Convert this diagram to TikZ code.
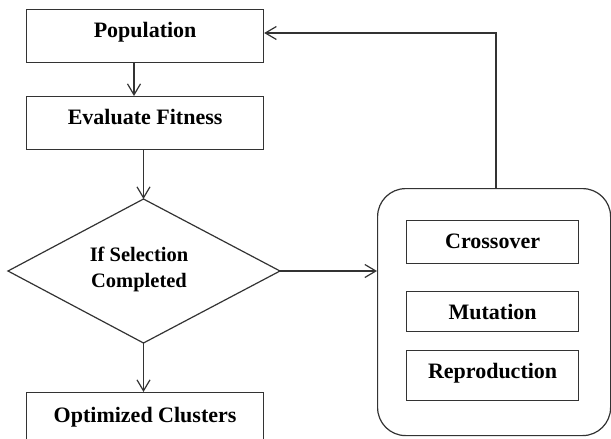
\documentclass[tikz,border=0pt]{standalone}
\usepackage{fontspec}
\setmainfont{Liberation Serif}
\usetikzlibrary{arrows.meta}
\definecolor{linegray}{HTML}{333333}
\tikzset{
  box/.style={draw=linegray, line width=1.2pt, rectangle, inner xsep=0pt, inner ysep=0pt,
    font=\fontsize{22}{24}\selectfont\bfseries, text height=28pt, align=center},
  txt/.style={font=\fontsize{20.5}{25.5}\selectfont\bfseries, align=center, inner sep=0pt},
  conn/.style={draw=linegray, line width=1.2pt, -{Straight Barb[length=11pt,width=13pt]}},
  plain/.style={draw=linegray, line width=1.2pt}
}
\begin{document}
\begin{tikzpicture}[x=1pt,y=-1pt]
\useasboundingbox (0,0) rectangle (611,439);
\clip (0,0) rectangle (611,439);
% left column boxes
\node[box, minimum width=237pt, text depth=25pt, anchor=north west] (pop) at (26,9) {Population};
\node[box, minimum width=237pt, text depth=25pt, anchor=north west] (eval) at (26,96) {Evaluate Fitness};
\node[box, minimum width=237pt, text height=29.7pt, text depth=30pt, anchor=north west] (opt) at (26,392) {Optimized Clusters};
% diamond
\coordinate (dtop) at (143.5,199);
\coordinate (dbot) at (143.5,343);
\coordinate (dleft) at (8,271);
\coordinate (dright) at (280,271);
\draw[plain] (dtop) -- (dright) -- (dbot) -- (dleft) -- cycle;
\node[txt, anchor=base] (sel) at (139,287) {If Selection\\Completed};
% right group
\node[draw=linegray, line width=1.2pt, rounded corners=28pt, minimum width=233pt, minimum height=247pt, anchor=north west, inner sep=0pt] (grp) at (377,188) {};
\node[box, minimum width=172pt, text depth=15pt, anchor=north west] (cross) at (406,220) {Crossover};
\node[box, minimum width=172pt, text depth=12pt, anchor=north west] (mut) at (406,291) {Mutation};
\node[box, minimum width=172pt, text depth=22pt, anchor=north west] (rep) at (406,350) {Reproduction};
% connectors
\draw[conn] (pop.south -| 134,0) -- (eval.north -| 134,0);
\draw[conn] (eval.south -| dtop) -- (dtop);
\draw[conn] (dbot) -- (dbot |- opt.north);
\draw[conn] (dright) -- (grp.west |- dright);
\coordinate (fb) at (496,33);
\draw[conn] (grp.north -| fb) -- (fb) -- (pop.east |- fb);
\end{tikzpicture}
\end{document}
